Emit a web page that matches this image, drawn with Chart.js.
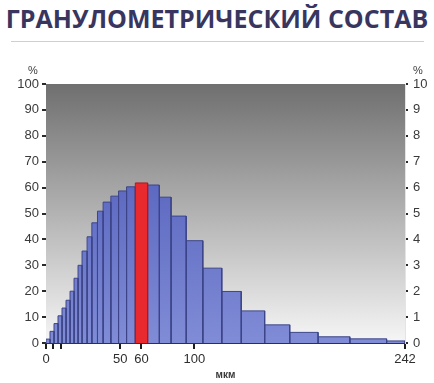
<!DOCTYPE html>
<html>
<head>
<meta charset="utf-8">
<script src="https://cdn.jsdelivr.net/npm/chart.js@4"></script>
<style>
  body { margin: 0; background: #fff; }
  #wrap { position: relative; width: 434px; height: 383px; }
  #title {
    position: absolute; left: 0; top: 1px; width: 434px; text-align: center;
    font: bold 25px "Open Sans", sans-serif; letter-spacing: 0; color: #38365f; white-space: nowrap;
  }
  #rule { position: absolute; left: 11px; top: 41px; width: 413px; height: 1px; background: #cfcfcf; }
  canvas { position: absolute; left: 0; top: 0; }
</style>
</head>
<body>
<div id="wrap">
  <div id="title">ГРАНУЛОМЕТРИЧЕСКИЙ СОСТАВ</div>
  <div id="rule"></div>
  <canvas id="chart" width="434" height="383"></canvas>
</div>
<script>
// particle size bins, µm (edges) and share of each bin, %
const binEdges = [0, 2.7, 5.4, 8.1, 10.8, 13.5, 16.2, 18.9, 21.6, 24.3, 27.7, 30.9, 34.7, 38.5, 43.7,
  48.9, 54.3, 60.2, 68.5, 76.4, 84.3, 94.5, 105.7, 118.5, 131.6, 147.4, 164.3, 183.4, 204.8, 229.6, 242];
const shares = [1.5, 4.5, 7.5, 10.5, 13.5, 16.5, 20, 25, 30, 35.5, 41, 46.4, 50.9, 54.4, 56.7,
  58.7, 60.3, 61.8, 61, 56.3, 49, 39.5, 28.9, 19.9, 12.4, 7, 4.1, 2.4, 1.6, 0.8];
const highlightBin = 17;

// the "60" mark sits under the highlighted bin, as in the source drawing
const xTickValues = [0, 5, 10, 50, 64.3, 100, 242];
const xTickLabels = ['0', '', '', '50', '60', '100', '242'];
const leftTicks = [0, 10, 20, 30, 40, 50, 60, 70, 80, 90, 100];
const rightTicks = [0, 1, 2, 3, 4, 5, 6, 7, 8, 9, 10];

let blueFill;
function barGradient(chart) {
  const area = chart.chartArea;
  if (!area) return '#6a78cc';
  if (!blueFill) {
    blueFill = chart.ctx.createLinearGradient(0, area.top + 90, 0, area.bottom);
    blueFill.addColorStop(0, '#5a67bf');
    blueFill.addColorStop(1, '#808cd6');
  }
  return blueFill;
}

const datasets = shares.map((v, i) => ({
  data: [
    { x: binEdges[i], y: 0 },
    { x: binEdges[i], y: v },
    { x: binEdges[i + 1], y: v },
    { x: binEdges[i + 1], y: 0 }
  ],
  fill: 'origin',
  borderWidth: 1,
  borderColor: i === highlightBin ? '#b3161c' : '#3c4588',
  backgroundColor: i === highlightBin ? '#e82a2e' : (ctx => barGradient(ctx.chart)),
  pointRadius: 0,
  order: i === highlightBin ? -1 : 0
}));

const backdrop = {
  id: 'backdrop',
  beforeDatasetsDraw(chart) {
    const { ctx, chartArea: a } = chart;
    const g = ctx.createLinearGradient(0, a.top, 0, a.bottom);
    g.addColorStop(0, '#6f6f6f');
    g.addColorStop(1, '#f6f6f6');
    ctx.save();
    ctx.fillStyle = g;
    ctx.fillRect(a.left, a.top, a.right - a.left, a.bottom - a.top);
    ctx.restore();
  },
  afterDraw(chart) {
    const { ctx, chartArea: a } = chart;
    ctx.save();
    ctx.fillStyle = '#3c3c3c';
    ctx.font = '11px "Liberation Sans", Arial, sans-serif';
    ctx.textAlign = 'center';
    ctx.textBaseline = 'middle';
    ctx.fillText('%', a.left - 13, a.top - 13);
    ctx.fillText('%', a.right + 13, a.top - 13);
    ctx.restore();
  }
};

const tickFont = { family: '"Liberation Sans", Arial, sans-serif', size: 13 };

new Chart(document.getElementById('chart'), {
  type: 'line',
  data: { datasets },
  plugins: [backdrop],
  options: {
    responsive: false,
    animation: false,
    devicePixelRatio: 1,
    layout: { padding: { top: 84, left: 0, right: 0, bottom: 0 } },
    plugins: { legend: { display: false }, tooltip: { enabled: false } },
    scales: {
      x: {
        type: 'linear', min: 0, max: 242,
        afterFit: s => { s.height = 40; },
        afterBuildTicks: s => { s.ticks = xTickValues.map(v => ({ value: v })); },
        ticks: {
          color: '#2e2e2e', font: tickFont, padding: 3, maxRotation: 0, autoSkip: false,
          callback: (v, i) => xTickLabels[i]
        },
        grid: { drawOnChartArea: false, drawTicks: true, tickLength: 6, color: '#1e1e1e', lineWidth: 2 },
        border: { display: true, color: '#2b2f5c', width: 2 },
        title: { display: true, text: 'мкм', color: '#3a3a3a', font: { family: '"Liberation Sans", Arial, sans-serif', size: 10, weight: 'bold' }, padding: { top: 0, bottom: 2 } }
      },
      y: {
        position: 'left', min: 0, max: 100,
        afterFit: s => { s.width = 46; },
        afterBuildTicks: s => { s.ticks = leftTicks.map(v => ({ value: v })); },
        ticks: { color: '#3a3a3a', font: tickFont, padding: 3 },
        grid: { drawOnChartArea: false, drawTicks: true, tickLength: 4, color: '#2a2a2a', lineWidth: 2 },
        border: { display: false }
      },
      y2: {
        position: 'right', min: 0, max: 10,
        afterFit: s => { s.width = 29; },
        afterBuildTicks: s => { s.ticks = rightTicks.map(v => ({ value: v })); },
        ticks: { color: '#3a3a3a', font: tickFont, padding: 5 },
        grid: { drawOnChartArea: false, drawTicks: true, tickLength: 3, color: '#2a2a2a', lineWidth: 2 },
        border: { display: true, color: '#e4e4e4', width: 1 }
      }
    }
  }
});
</script>
</body>
</html>
